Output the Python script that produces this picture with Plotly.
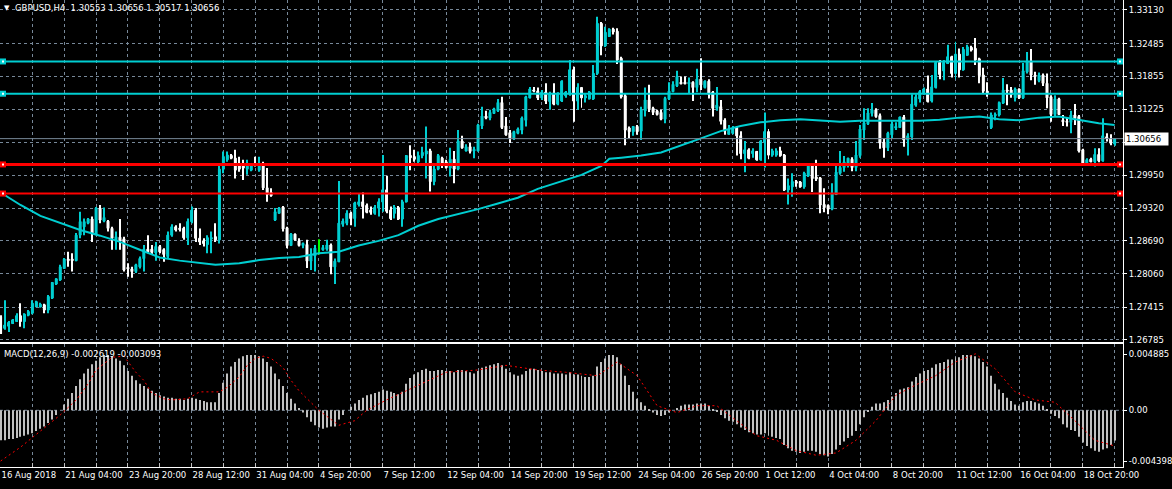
import plotly.graph_objects as go

# ---------------- data (GBPUSD H4) ----------------
bar_open = [
1.2723,1.2701,1.2705,1.2710,1.2714,1.2725,1.2714,1.2726,1.2730,1.2742,
1.2742,1.2746,1.2736,1.2759,1.2786,1.2794,1.2816,1.2834,1.2834,1.2831,
1.2880,1.2896,1.2903,1.2911,1.2882,1.2932,1.2907,1.2907,1.2893,1.2869,
1.2876,1.2873,1.2818,1.2815,1.2810,1.2819,1.2835,1.2853,1.2853,1.2846,
1.2858,1.2852,1.2839,1.2880,1.2896,1.2893,1.2893,1.2875,1.2906,1.2928,
1.2874,1.2869,1.2862,1.2873,1.2877,1.2871,1.3007,1.3025,1.3033,1.3028,
1.3018,1.3018,1.3007,1.3005,1.3016,1.3005,1.3018,1.2971,1.2962,1.2909,
1.2922,1.2934,1.2894,1.2860,1.2882,1.2869,1.2860,1.2862,1.2830,1.2840,
1.2850,1.2852,1.2853,1.2861,1.2819,1.2829,1.2901,1.2903,1.2922,1.2912,
1.2939,1.2944,1.2937,1.2928,1.2922,1.2932,1.2944,1.2967,1.2928,1.2922,
1.2933,1.2911,1.2944,1.3033,1.3031,1.3021,1.3033,1.3036,1.3042,1.2983,
1.3007,1.3028,1.3021,1.3009,1.3026,1.3007,1.3061,1.3042,1.3050,1.3042,
1.3042,1.3090,1.3109,1.3105,1.3114,1.3119,1.3135,1.3090,1.3077,1.3065,
1.3076,1.3082,1.3101,1.3144,1.3159,1.3157,1.3144,1.3155,1.3137,1.3153,
1.3132,1.3138,1.3148,1.3151,1.3198,1.3138,1.3164,1.3144,1.3142,1.3142,
1.3191,1.3287,1.3244,1.3262,1.3276,1.3272,1.3220,1.3148,1.3086,1.3079,
1.3089,1.3080,1.3119,1.3140,1.3124,1.3119,1.3116,1.3103,1.3142,1.3156,
1.3167,1.3174,1.3174,1.3171,1.3174,1.3164,1.3180,1.3164,1.3176,1.3155,
1.3124,1.3127,1.3101,1.3074,1.3076,1.3086,1.3071,1.3037,1.3044,1.3037,
1.3041,1.3025,1.3059,1.3079,1.3034,1.3034,1.3042,1.3034,1.2967,1.2973,
1.2983,1.2982,1.2973,1.2994,1.3016,1.2992,1.2990,1.2939,1.2937,1.2930,
1.2958,1.2999,1.3010,1.3014,1.3026,1.3010,1.3033,1.3082,1.3094,1.3114,
1.3121,1.3110,1.3059,1.3048,1.3073,1.3086,1.3087,1.3107,1.3063,1.3069,
1.3130,1.3142,1.3153,1.3161,1.3138,1.3164,1.3212,1.3196,1.3210,1.3223,
1.3191,1.3228,1.3198,1.3226,1.3241,1.3239,1.3219,1.3188,1.3157,1.3087,
1.3110,1.3111,1.3134,1.3159,1.3159,1.3144,1.3161,1.3144,1.3194,1.3215,
1.3188,1.3177,1.3188,1.3172,1.3146,1.3112,1.3142,1.3101,1.3099,1.3097,
1.3111,1.3108,1.3044,1.3015,1.3026,1.3021,1.3035,1.3023,1.3069,1.3065,
1.30553]
bar_high = [
1.2726,1.2755,1.2715,1.2719,1.2730,1.2749,1.2730,1.2736,1.2755,1.2754,
1.2750,1.2748,1.2765,1.2790,1.2797,1.2823,1.2836,1.2848,1.2845,1.2884,
1.2925,1.2912,1.2913,1.2916,1.2934,1.2938,1.2933,1.2909,1.2896,1.2887,
1.2911,1.2877,1.2826,1.2819,1.2825,1.2839,1.2861,1.2880,1.2861,1.2867,
1.2861,1.2855,1.2887,1.2901,1.2899,1.2903,1.2896,1.2912,1.2935,1.2932,
1.2893,1.2874,1.2880,1.2887,1.2903,1.3015,1.3041,1.3041,1.3036,1.3044,
1.3031,1.3025,1.3025,1.3017,1.3031,1.3031,1.3021,1.3009,1.2970,1.2932,
1.2934,1.2936,1.2896,1.2884,1.2883,1.2874,1.2866,1.2871,1.2855,1.2861,
1.2872,1.2861,1.2871,1.2864,1.2835,1.2984,1.2912,1.2928,1.2925,1.2944,
1.2960,1.2962,1.2941,1.2935,1.2938,1.2951,1.3034,1.2994,1.2935,1.2938,
1.2936,1.2948,1.3034,1.3053,1.3044,1.3041,1.3050,1.3089,1.3046,1.3018,
1.3036,1.3031,1.3025,1.3048,1.3042,1.3082,1.3071,1.3055,1.3057,1.3050,
1.3094,1.3127,1.3119,1.3121,1.3125,1.3142,1.3146,1.3107,1.3082,1.3081,
1.3087,1.3108,1.3148,1.3165,1.3165,1.3164,1.3159,1.3172,1.3156,1.3172,
1.3155,1.3178,1.3157,1.3217,1.3204,1.3172,1.3165,1.3153,1.3157,1.3207,
1.3300,1.3290,1.3281,1.3278,1.3279,1.3278,1.3223,1.3153,1.3089,1.3090,
1.3092,1.3127,1.3164,1.3169,1.3127,1.3121,1.3121,1.3146,1.3174,1.3176,
1.3196,1.3185,1.3185,1.3183,1.3176,1.3200,1.3220,1.3178,1.3180,1.3157,
1.3165,1.3140,1.3105,1.3092,1.3090,1.3090,1.3080,1.3061,1.3047,1.3047,
1.3042,1.3063,1.3116,1.3084,1.3046,1.3047,1.3050,1.3036,1.2989,1.2999,
1.2986,1.2984,1.3002,1.3018,1.3018,1.3025,1.2992,1.2970,1.2939,1.2980,
1.3016,1.3042,1.3032,1.3029,1.3030,1.3061,1.3092,1.3124,1.3124,1.3134,
1.3124,1.3114,1.3066,1.3079,1.3098,1.3097,1.3108,1.3111,1.3076,1.3151,
1.3151,1.3159,1.3164,1.3187,1.3188,1.3214,1.3217,1.3217,1.3246,1.3225,
1.3252,1.3239,1.3242,1.3246,1.3244,1.3259,1.3221,1.3202,1.3174,1.3116,
1.3116,1.3137,1.3182,1.3170,1.3165,1.3164,1.3162,1.3211,1.3232,1.3238,
1.3194,1.3193,1.3191,1.3191,1.3149,1.3149,1.3144,1.3111,1.3106,1.3119,
1.3132,1.3111,1.3046,1.3028,1.3029,1.3047,1.3047,1.3105,1.3076,1.3074,
1.30656]
bar_low = [
1.2690,1.2698,1.2694,1.2709,1.2713,1.2704,1.2701,1.2724,1.2728,1.2742,
1.2741,1.2730,1.2730,1.2757,1.2784,1.2792,1.2815,1.2819,1.2810,1.2830,
1.2874,1.2880,1.2901,1.2867,1.2880,1.2903,1.2905,1.2887,1.2852,1.2852,
1.2852,1.2810,1.2800,1.2798,1.2807,1.2816,1.2810,1.2845,1.2842,1.2831,
1.2845,1.2829,1.2835,1.2877,1.2887,1.2887,1.2871,1.2861,1.2903,1.2867,
1.2861,1.2858,1.2845,1.2845,1.2867,1.2864,1.2999,1.3021,1.3026,1.2989,
1.3002,1.2986,1.2996,1.3003,1.3012,1.3002,1.2967,1.2944,1.2954,1.2907,
1.2921,1.2887,1.2855,1.2859,1.2869,1.2858,1.2855,1.2817,1.2813,1.2810,
1.2843,1.2850,1.2850,1.2805,1.2786,1.2828,1.2896,1.2899,1.2899,1.2896,
1.2935,1.2912,1.2922,1.2919,1.2919,1.2916,1.2925,1.2922,1.2909,1.2912,
1.2909,1.2896,1.2943,1.3005,1.3021,1.3018,1.3028,1.2989,1.2964,1.2976,
1.3005,1.3009,1.3008,1.2993,1.2980,1.3005,1.3046,1.3041,1.3037,1.3028,
1.3041,1.3084,1.3103,1.3101,1.3113,1.3117,1.3084,1.3071,1.3057,1.3063,
1.3074,1.3074,1.3089,1.3143,1.3155,1.3140,1.3140,1.3132,1.3121,1.3130,
1.3130,1.3136,1.3144,1.3148,1.3098,1.3121,1.3125,1.3135,1.3141,1.3140,
1.3188,1.3226,1.3242,1.3261,1.3266,1.3209,1.3143,1.3053,1.3067,1.3071,
1.3073,1.3063,1.3108,1.3117,1.3111,1.3110,1.3101,1.3095,1.3140,1.3155,
1.3165,1.3170,1.3170,1.3153,1.3138,1.3155,1.3159,1.3162,1.3143,1.3108,
1.3119,1.3093,1.3073,1.3073,1.3074,1.3033,1.3026,1.3001,1.3026,1.3029,
1.3023,1.3023,1.3010,1.3026,1.3031,1.3031,1.3031,1.2965,1.2939,1.2954,
1.2973,1.2971,1.2969,1.2992,1.2963,1.2984,1.2922,1.2924,1.2920,1.2928,
1.2957,1.2996,1.3002,1.3010,1.3003,1.3003,1.3029,1.3063,1.3092,1.3108,
1.3106,1.3046,1.3029,1.3042,1.3067,1.3082,1.3086,1.3050,1.3033,1.3063,
1.3127,1.3135,1.3150,1.3135,1.3135,1.3162,1.3180,1.3178,1.3209,1.3183,
1.3180,1.3183,1.3196,1.3225,1.3233,1.3207,1.3172,1.3153,1.3146,1.3084,
1.3101,1.3108,1.3132,1.3130,1.3144,1.3137,1.3142,1.3142,1.3191,1.3178,
1.3169,1.3174,1.3167,1.3124,1.3098,1.3108,1.3111,1.3090,1.3089,1.3076,
1.3092,1.3039,1.3015,1.3014,1.3020,1.3012,1.3020,1.3021,1.3060,1.3053,
1.30517]
bar_close = [
1.2691,1.2707,1.2712,1.2717,1.2725,1.2714,1.2728,1.2733,1.2749,1.2752,
1.2747,1.2736,1.2762,1.2789,1.2796,1.2819,1.2834,1.2831,1.2831,1.2880,
1.2906,1.2906,1.2911,1.2882,1.2932,1.2909,1.2914,1.2893,1.2874,1.2877,
1.2869,1.2813,1.2815,1.2810,1.2823,1.2835,1.2853,1.2848,1.2847,1.2858,
1.2848,1.2843,1.2880,1.2896,1.2890,1.2891,1.2875,1.2906,1.2928,1.2874,
1.2867,1.2864,1.2875,1.2875,1.2871,1.3007,1.3031,1.3034,1.3028,1.3005,
1.3007,1.3009,1.3018,1.3015,1.3014,1.3018,1.2971,1.2958,1.2956,1.2925,
1.2932,1.2892,1.2860,1.2882,1.2871,1.2860,1.2864,1.2830,1.2842,1.2855,
1.2850,1.2856,1.2861,1.2819,1.2830,1.2903,1.2907,1.2922,1.2912,1.2942,
1.2944,1.2935,1.2924,1.2924,1.2933,1.2944,1.2967,1.2926,1.2912,1.2933,
1.2911,1.2944,1.3033,1.3029,1.3026,1.3033,1.3039,1.3042,1.2983,1.3007,
1.3033,1.3018,1.3010,1.3026,1.3007,1.3061,1.3048,1.3050,1.3041,1.3045,
1.3092,1.3109,1.3105,1.3116,1.3123,1.3135,1.3087,1.3073,1.3067,1.3079,
1.3084,1.3105,1.3146,1.3161,1.3157,1.3144,1.3155,1.3138,1.3153,1.3132,
1.3153,1.3176,1.3155,1.3198,1.3138,1.3164,1.3144,1.3148,1.3155,1.3191,
1.3287,1.3244,1.3270,1.3276,1.3271,1.3217,1.3146,1.3082,1.3079,1.3089,
1.3079,1.3121,1.3140,1.3123,1.3116,1.3112,1.3103,1.3143,1.3157,1.3170,
1.3185,1.3171,1.3171,1.3174,1.3164,1.3180,1.3169,1.3176,1.3151,1.3124,
1.3130,1.3099,1.3080,1.3082,1.3086,1.3071,1.3037,1.3044,1.3028,1.3042,
1.3025,1.3061,1.3079,1.3034,1.3042,1.3042,1.3033,1.2967,1.2975,1.2983,
1.2980,1.2973,1.2999,1.3016,1.2989,1.2988,1.2938,1.2933,1.2930,1.2960,
1.3001,1.3010,1.3021,1.3028,1.3010,1.3034,1.3084,1.3096,1.3115,1.3121,
1.3108,1.3057,1.3048,1.3076,1.3094,1.3089,1.3107,1.3063,1.3071,1.3132,
1.3146,1.3156,1.3161,1.3137,1.3165,1.3212,1.3189,1.3212,1.3223,1.3191,
1.3228,1.3198,1.3237,1.3242,1.3236,1.3217,1.3187,1.3157,1.3153,1.3111,
1.3112,1.3135,1.3159,1.3157,1.3150,1.3161,1.3144,1.3196,1.3215,1.3188,
1.3185,1.3188,1.3172,1.3144,1.3112,1.3142,1.3112,1.3098,1.3097,1.3111,
1.3105,1.3042,1.3016,1.3025,1.3021,1.3035,1.3023,1.3071,1.3066,1.3057,
1.30656]

# moving average read at sampled bars
ma_bar = [0,5,10,15,20,25,30,35,40,45,50,54,60,65,70,75,80,85,90,95,100,105,110,115,120,125,130,
          135,141,146,151,153,156,161,166,171,176,181,186,191,196,201,206,211,216,221,226,231,236,
          241,246,251,256,261,266,271,276,280]
ma_value = [1.2962,1.2938,1.2917,1.2903,1.2890,1.2879,1.2867,1.2852,1.2837,1.2831,1.2826,1.2823,
            1.2826,1.2832,1.2836,1.2838,1.2845,1.2848,1.2860,1.2869,1.2880,1.2898,1.2911,1.2920,
            1.2930,1.2941,1.2952,1.2969,1.2983,1.2996,1.3013,1.3027,1.3029,1.3033,1.3039,1.3052,
            1.3066,1.3080,1.3090,1.3097,1.3101,1.3103,1.3100,1.3098,1.3100,1.3100,1.3100,1.3100,
            1.3102,1.3106,1.3108,1.3103,1.3101,1.3106,1.3108,1.3101,1.3095,1.3092]

macd_hist = [
-0.0026,-0.0026,-0.0025,-0.0025,-0.0024,-0.0023,-0.0022,-0.0021,-0.0020,-0.0018,-0.0016,-0.0014,-0.0011,-0.0008,-0.0004,
0.0000,0.0005,0.0010,0.0015,0.0021,0.0027,0.0032,0.0036,0.0040,0.0043,0.0046,0.0048,0.0048,0.0047,0.0045,
0.0043,0.0039,0.0034,0.0030,0.0026,0.0023,0.0021,0.0019,0.0017,0.0015,0.0013,0.0012,0.0011,0.0011,0.0010,
0.0010,0.0009,0.0010,0.0011,0.0010,0.0009,0.0008,0.0007,0.0007,0.0007,
0.0015,0.0024,0.0032,0.0038,0.0042,0.0045,0.0047,0.0048,0.0048,0.0048,0.0047,0.0045,0.0042,0.0038,0.0032,
0.0027,0.0021,0.0015,0.0010,0.0006,0.0002,-0.0002,-0.0006,-0.0010,-0.0013,-0.0015,-0.0016,-0.0015,-0.0014,-0.0014,
-0.0008,-0.0004,0.0000,0.0003,0.0006,0.0009,0.0011,0.0013,0.0014,0.0015,0.0016,0.0018,0.0017,0.0016,0.0015,
0.0014,0.0016,0.0023,0.0028,0.0031,0.0033,0.0035,0.0036,0.0034,0.0034,0.0035,0.0035,0.0034,0.0034,0.0033,
0.0035,0.0035,0.0034,0.0033,0.0032,0.0034,0.0037,0.0038,0.0039,0.0040,0.0041,0.0039,0.0036,0.0033,0.0031,
0.0030,0.0031,0.0034,0.0036,0.0036,0.0035,0.0034,0.0033,0.0033,0.0032,0.0032,0.0032,0.0031,0.0033,0.0031,
0.0031,0.0030,0.0029,0.0029,0.0030,0.0038,0.0042,0.0045,0.0048,0.0048,0.0046,0.0040,0.0030,0.0022,0.0016,
0.0010,0.0007,0.0004,0.0001,-0.0002,-0.0004,-0.0005,-0.0004,-0.0002,0.0000,0.0002,0.0004,0.0005,0.0005,0.0005,
0.0006,0.0006,0.0006,0.0004,0.0001,-0.0001,-0.0004,-0.0007,-0.0009,-0.0010,-0.0012,-0.0015,-0.0017,-0.0019,-0.0020,
-0.0021,-0.0021,-0.0020,-0.0022,-0.0023,-0.0024,-0.0025,-0.0030,-0.0033,-0.0035,-0.0036,-0.0037,-0.0036,-0.0035,-0.0035,
-0.0036,-0.0038,-0.0039,-0.0040,-0.0038,-0.0034,-0.0030,-0.0027,-0.0024,-0.0022,-0.0018,-0.0012,-0.0006,-0.0001,0.0003,
0.0006,0.0006,0.0007,0.0009,0.0012,0.0015,0.0018,0.0019,0.0020,0.0025,0.0029,0.0032,0.0034,0.0035,0.0037,
0.0040,0.0041,0.0042,0.0044,0.0044,0.0046,0.0046,0.0048,0.0048,0.0048,0.0047,0.0045,0.0042,0.0038,0.0030,
0.0023,0.0018,0.0015,0.0011,0.0008,0.0005,0.0004,0.0007,0.0008,0.0008,0.0007,0.0006,0.0004,0.0001,-0.0003,
-0.0005,-0.0007,-0.0012,-0.0015,-0.0017,-0.0018,-0.0023,-0.0028,-0.0031,-0.0033,-0.0035,-0.0036,-0.0034,-0.0033,-0.0030,-0.002619]

signal_bar = [0,5,10,15,19,22,24,27,28,31,32,34,36,38,41,43,47,50,55,57,60,62,64,66,68,71,73,75,
              80,85,89,92,97,105,112,120,127,135,142,150,155,160,165,170,175,180,185,190,195,200,
              205,210,215,220,225,230,235,240,245,250,255,260,265,270,275,280]
signal_value = [-0.0044,-0.0032,-0.0018,-0.0004,0.0009,0.0023,0.0035,0.0043,0.0046,0.0047,0.0042,
                0.0033,0.0026,0.0015,0.0010,0.0009,0.0010,0.0016,0.0016,0.0020,0.0029,0.0039,0.0045,
                0.0047,0.0045,0.0037,0.0026,0.0017,0.0000,-0.0013,-0.0009,0.0000,0.0009,0.0022,0.0033,
                0.0035,0.0039,0.0035,0.0033,0.0030,0.0042,0.0030,0.0004,-0.0002,0.0004,0.0004,-0.0009,
                -0.0022,-0.0026,-0.0035,-0.0039,-0.0037,-0.0026,-0.0009,0.0013,0.0022,0.0030,0.0042,
                0.0049,0.0036,0.0016,0.0009,0.0007,-0.0009,-0.0026,-0.003093]

time_labels = ["16 Aug 2018", "21 Aug 04:00", "23 Aug 20:00", "28 Aug 12:00", "31 Aug 04:00",
               "4 Sep 20:00", "7 Sep 12:00", "12 Sep 04:00", "14 Sep 20:00", "19 Sep 12:00",
               "24 Sep 04:00", "26 Sep 20:00", "1 Oct 12:00", "4 Oct 04:00", "8 Oct 20:00",
               "11 Oct 12:00", "16 Oct 04:00", "18 Oct 20:00"]
price_ticks = [1.33130, 1.32485, 1.31855, 1.31225, 1.30590, 1.29950, 1.29320, 1.28690, 1.28060, 1.27415, 1.26785]
price_tick_text = ["1.33130", "1.32485", "1.31855", "1.31225", "", "1.29950", "1.29320", "1.28690",
                   "1.28060", "1.27415", "1.26785"]
macd_ticks = [0.004885, 0.0, -0.004398]
macd_tick_text = ["0.004885", "0.00", "-0.004398"]

level_prices = [1.3214, 1.3152, 1.3016, 1.2960]
level_colors = ["#00CED1", "#00CED1", "#FF0000", "#FF0000"]
level_widths = [2, 2, 3, 2]
last_price = 1.30656
title_text = "GBPUSD,H4\u00a0\u00a01.30553 1.30656 1.30517 1.30656"
macd_title = "MACD(12,26,9) -0.002619 -0.003093"

# ---------------- figure ----------------
BULL, BEAR, DOJI = "#00CED1", "#FFFFFF", "#00FF00"
GRID = "#778899"
n = len(bar_open)
idx = list(range(n))
colors = [BULL if c > o else (BEAR if c < o else DOJI) for o, c in zip(bar_open, bar_close)]
body_base = [min(o, c) for o, c in zip(bar_open, bar_close)]
body_h = [abs(c - o) for o, c in zip(bar_open, bar_close)]
wick_h = [h - l for h, l in zip(bar_high, bar_low)]

fig = go.Figure()
fig.add_trace(go.Bar(x=idx, y=wick_h, base=bar_low, width=0.25, xaxis="x2", yaxis="y2",
                     marker=dict(color=colors, line=dict(width=0)), hoverinfo="skip"))
fig.add_trace(go.Bar(x=idx, y=body_h, base=body_base, width=0.5, xaxis="x2", yaxis="y2",
                     marker=dict(color=colors, line=dict(color=colors, width=1)), hoverinfo="skip"))
fig.add_trace(go.Scatter(x=ma_bar, y=ma_value, mode="lines", xaxis="x2", yaxis="y2",
                         line=dict(color=BULL, width=2)))
fig.add_trace(go.Bar(x=idx, y=macd_hist, width=0.25, xaxis="x", yaxis="y",
                     marker=dict(color="#C0C0C0", line=dict(width=0))))
fig.add_trace(go.Scatter(x=signal_bar, y=signal_value, mode="lines", xaxis="x", yaxis="y",
                         line=dict(color="#FF0000", width=1, dash="2px,3px")))

H_PLOT = 467.0
main_bottom = 1 - 342 / H_PLOT
macd_top = 1 - 344 / H_PLOT

shapes = []
for p, c, w in zip(level_prices, level_colors, level_widths):
    shapes.append(dict(type="line", xref="paper", x0=0, x1=1, yref="y2", y0=p, y1=p,
                       line=dict(color=c, width=w), layer="above"))
    for anc, a0, a1 in [(0, 0, 6), (1, -6, 0)]:
        shapes.append(dict(type="rect", xref="paper", xsizemode="pixel", xanchor=anc, x0=a0, x1=a1,
                           yref="y2", ysizemode="pixel", yanchor=p, y0=-3, y1=3,
                           fillcolor=c, line=dict(width=0), layer="above"))
        shapes.append(dict(type="rect", xref="paper", xsizemode="pixel", xanchor=anc, x0=a0 + 2, x1=a1 - 2,
                           yref="y2", ysizemode="pixel", yanchor=p, y0=-1, y1=1,
                           fillcolor="white", line=dict(width=0), layer="above"))
shapes.append(dict(type="line", xref="paper", x0=0, x1=1, yref="y2", y0=last_price, y1=last_price,
                   line=dict(color=GRID, width=1), layer="above"))
shapes.append(dict(type="line", xref="paper", x0=0, x1=1, yref="y", y0=0, y1=0,
                   line=dict(color=GRID, width=1, dash="3px,3px"), layer="below"))

grid_bars = list(range(0, n + 1, 8))
grid_text = [time_labels[i // 2] if i % 2 == 0 and i // 2 < len(time_labels) else "" for i in range(len(grid_bars))]

axis_font = dict(family="DejaVu Sans", size=8.5, color="white")
fig.update_layout(
    width=1172, height=489, margin=dict(l=0, r=43, t=0, b=22),
    paper_bgcolor="black", plot_bgcolor="black", showlegend=False, barmode="overlay",
    font=axis_font,
    xaxis=dict(domain=[0, 1], anchor="y", range=[-0.15, 282.1], tickmode="array", tickvals=grid_bars,
               ticktext=grid_text, ticklabelposition="outside right", tickangle=0, ticks="inside", ticklen=4,
               tickcolor="#C0C0C0", showgrid=True, gridcolor=GRID, griddash="3px,3px", gridwidth=1,
               showline=True, linecolor="white", linewidth=1, mirror=True, zeroline=False,
               tickfont=axis_font),
    xaxis2=dict(domain=[0, 1], anchor="y2", matches="x", tickmode="array", tickvals=grid_bars,
                showticklabels=False, ticks="", showgrid=True, gridcolor=GRID, griddash="3px,3px",
                gridwidth=1, showline=True, linecolor="white", linewidth=1, zeroline=False),
    yaxis=dict(domain=[0, macd_top], range=[-0.004919, 0.005753], side="right", tickmode="array",
               tickvals=macd_ticks, ticktext=macd_tick_text, showgrid=False, zeroline=False,
               ticks="outside", ticklen=3, tickcolor="white", showline=True, linecolor="white",
               linewidth=1, tickfont=axis_font),
    yaxis2=dict(domain=[main_bottom, 1], range=[1.33322 - 342 * 0.0001923, 1.33322], side="right",
                tickmode="array", tickvals=price_ticks, ticktext=price_tick_text, showgrid=True,
                gridcolor=GRID, griddash="3px,3px", gridwidth=1, zeroline=False, ticks="outside",
                ticklen=3, tickcolor="white", showline=True, linecolor="white", linewidth=1,
                tickfont=axis_font),
    shapes=shapes,
    annotations=[
        dict(xref="paper", yref="paper", x=0, y=1, xanchor="left", yanchor="top", xshift=2, yshift=-2,
             text="\u25bc", showarrow=False, font=dict(family="DejaVu Sans", size=7, color="white")),
        dict(xref="paper", yref="paper", x=0, y=1, xanchor="left", yanchor="top", xshift=13, yshift=-1,
             text=title_text, showarrow=False, font=axis_font),
        dict(xref="paper", yref="paper", x=0, y=macd_top, xanchor="left", yanchor="top", xshift=2,
             yshift=-3, text=macd_title, showarrow=False, font=axis_font),
        dict(xref="paper", yref="y2", x=1, y=last_price, xanchor="left", yanchor="middle", xshift=1,
             text="1.30656\u00a0\u00a0", showarrow=False, bgcolor="white", borderpad=1,
             font=dict(family="DejaVu Sans", size=8.5, color="black")),
    ],
)

fig.write_html("out.html", config={"displayModeBar": False},
               post_script="document.body.style.margin='0';document.body.style.overflow='hidden';")
